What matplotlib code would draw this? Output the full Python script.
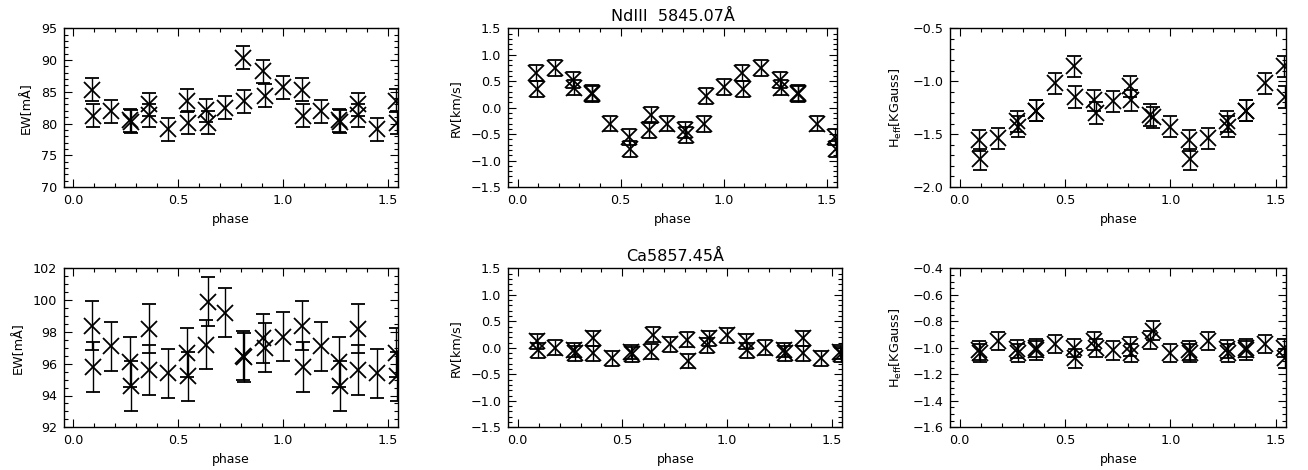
import numpy as np
import matplotlib
matplotlib.use("Agg")
import matplotlib.pyplot as plt
from matplotlib.ticker import MultipleLocator, AutoMinorLocator, FuncFormatter

plt.rcParams['font.family'] = ['DejaVu Sans']

# rotational phases of the observations
phase = [0.09, 0.095, 0.18, 0.27, 0.275, 0.36, 0.36, 0.45, 0.54, 0.545,
         0.635, 0.645, 0.725, 0.81, 0.815, 0.905, 0.915, 1.0]

# NdIII 5845.07
ew_nd = [85.3, 81.2, 81.9, 80.5, 80.3, 83.0, 81.3, 79.1, 83.6, 80.1,
         82.1, 80.1, 82.5, 90.4, 83.5, 88.2, 84.4, 85.7]
rv_nd = [0.66, 0.36, 0.75, 0.53, 0.38, 0.27, 0.25, -0.30, -0.56, -0.78,
         -0.43, -0.14, -0.30, -0.43, -0.52, -0.31, 0.22, 0.39]
heff_nd = [-1.56, -1.74, -1.54, -1.38, -1.43, -1.28, -1.28, -1.02, -0.86, -1.15,
           -1.18, -1.30, -1.19, -1.05, -1.18, -1.32, -1.34, -1.43]

# Ca 5857.45
ew_ca = [98.4, 95.8, 97.1, 96.1, 94.6, 98.2, 95.6, 95.4, 96.7, 95.2,
         97.2, 99.9, 99.2, 96.5, 96.4, 97.6, 97.0, 97.7]
rv_ca = [0.12, -0.05, 0.0, -0.04, -0.10, 0.18, -0.10, -0.20, -0.08, -0.12,
         -0.07, 0.25, 0.07, 0.15, -0.25, 0.05, 0.18, 0.24]
heff_ca = [-1.02, -1.04, -0.95, -1.01, -1.04, -1.00, -1.02, -0.97, -1.00, -1.08,
           -0.95, -1.00, -1.02, -0.99, -1.04, -0.94, -0.87, -1.04]

err_ew_nd, err_rv_nd, err_heff_nd = 1.8, 0.15, 0.10
err_ew_ca, err_rv_ca, err_heff_ca = 1.55, 0.14, 0.07

W, H = 1308, 470


def pos(l, r, t, b):
    return [l / W, 1 - b / H, (r - l) / W, (b - t) / H]


def fmt(nd):
    return FuncFormatter(lambda v, p: ('%.*f' % (nd, v)).replace('-', '\u2212'))


fig = plt.figure(figsize=(W / 100, H / 100), dpi=100)

panels = [
    (pos(64, 398, 28.3, 187), ew_nd, err_ew_nd, (70, 95), 5, 5, 'EW[mÅ]', None),
    (pos(508.3, 837.3, 28.3, 187), rv_nd, err_rv_nd, (-1.5, 1.5), 0.5, 5, 'RV[km/s]', 'NdIII  5845.07Å'),
    (pos(950.3, 1286.3, 28.3, 187), heff_nd, err_heff_nd, (-2.0, -0.5), 0.5, 5, r'H$_{\rm eff}$[KGauss]', None),
    (pos(64, 398, 268.3, 427.3), ew_ca, err_ew_ca, (92, 102), 2, 4, 'EW[mÅ]', None),
    (pos(508.3, 842.3, 268.3, 427.3), rv_ca, err_rv_ca, (-1.5, 1.5), 0.5, 5, 'RV[km/s]', 'Ca5857.45Å'),
    (pos(950.3, 1286.3, 268.3, 427.3), heff_ca, err_heff_ca, (-1.6, -0.4), 0.2, 4, r'H$_{\rm eff}$[KGauss]', None),
]

ph = np.array(phase)
for rect, vals, err, ylim, ystep, yminor, ylab, title in panels:
    ax = fig.add_axes(rect)
    x = np.concatenate([ph, ph + 1])
    y = np.concatenate([vals, vals])
    ax.errorbar(x, y, yerr=err, fmt='x', color='black', ecolor='black',
                markersize=12, markeredgewidth=1.3, elinewidth=1.0,
                capsize=4.8, capthick=1.0)
    ax.set_xlim(-0.045, 1.55)
    ax.set_ylim(*ylim)
    ax.xaxis.set_major_locator(MultipleLocator(0.5))
    ax.xaxis.set_minor_locator(AutoMinorLocator(5))
    ax.yaxis.set_major_locator(MultipleLocator(ystep))
    ax.yaxis.set_minor_locator(AutoMinorLocator(yminor))
    ax.tick_params(which='both', direction='in', top=True, right=True,
                   labelsize=9.2, width=0.8, pad=5)
    ax.tick_params(which='major', length=6)
    ax.tick_params(which='minor', length=3)
    ax.xaxis.set_major_formatter(fmt(1))
    ax.yaxis.set_major_formatter(fmt(1 if ystep < 1 else 0))
    for sp in ax.spines.values():
        sp.set_linewidth(1.0)
    ax.set_xlabel('phase', fontsize=9, labelpad=4)
    ax.set_ylabel(ylab, fontsize=9.2, labelpad=6)
    if title:
        ax.set_title(title, fontsize=11.5, pad=5)
    fig.canvas.draw()
    ylabels = ax.get_yticklabels()
    ylabels[0].set_verticalalignment('bottom')
    ylabels[-1].set_verticalalignment('top')

fig.savefig('out.png', dpi=100)
